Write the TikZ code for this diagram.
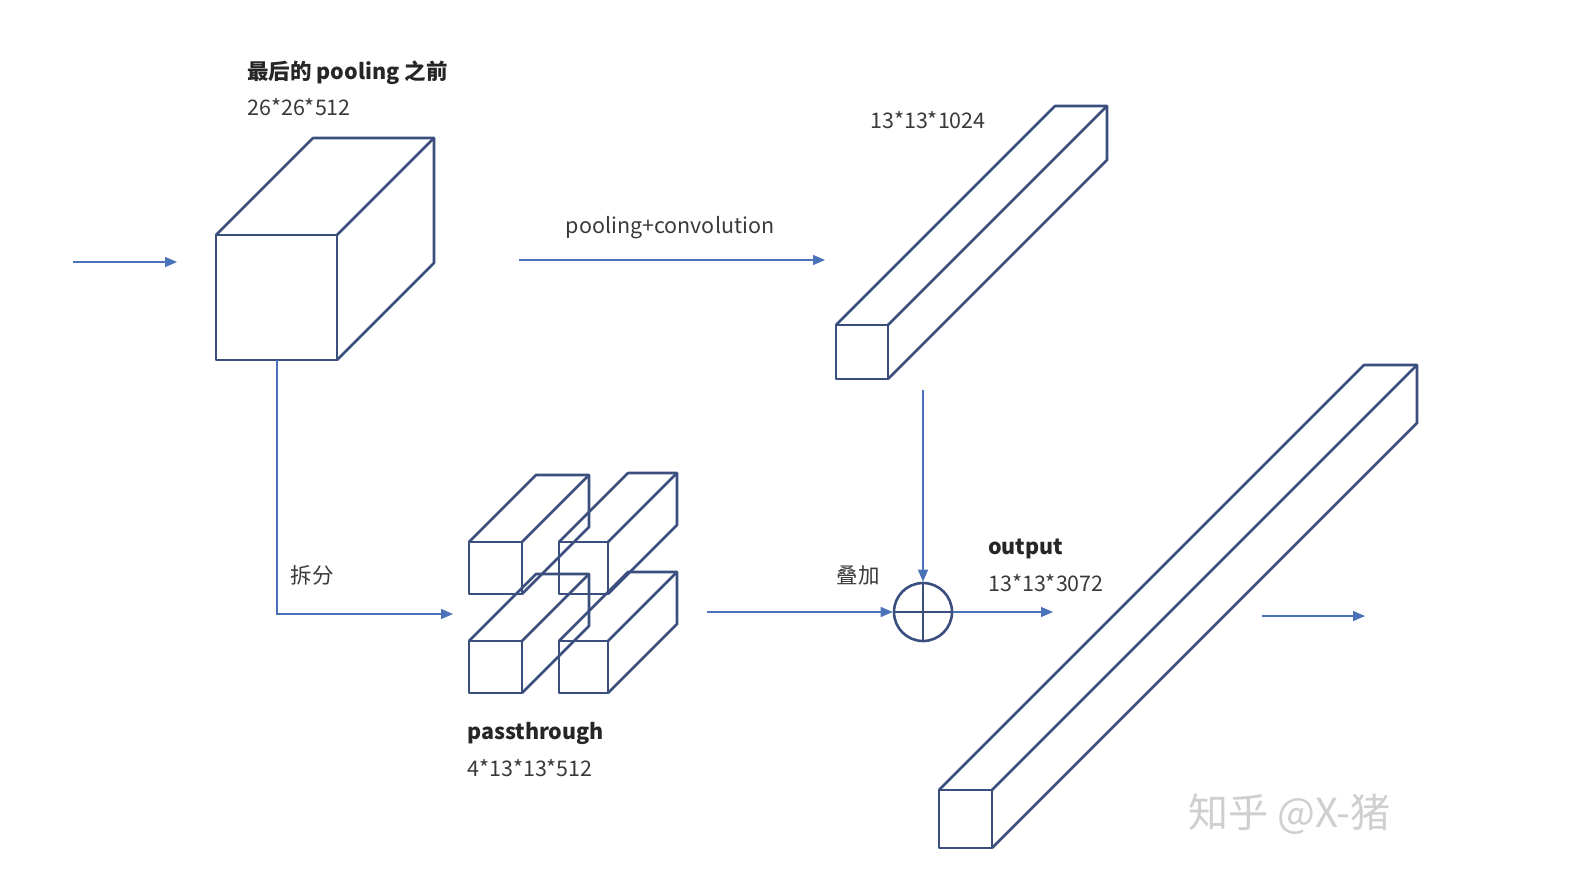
\documentclass[tikz,border=0pt]{standalone}
\usepackage{fontspec}
\setmainfont{Noto Sans CJK SC}
\usetikzlibrary{arrows.meta}
\definecolor{boxc}{HTML}{3B4F7F}
\definecolor{arrc}{HTML}{4A72B8}
\definecolor{txtc}{HTML}{3A3A3A}
\definecolor{wmc}{HTML}{CFCFCF}
\newcommand\drawcuboid[5]{% x y w h d
  \draw[boxline] (#1,#2) rectangle ++(#3,#4);
  \draw[boxline] (#1,#2) -- ++(#5,-#5) -- ++(#3,0) -- ++(0,#4) -- ++(-#5,#5);
  \draw[boxline] (#1+#3,#2) -- ++(#5,-#5);
}
\begin{document}
\begin{tikzpicture}[x=1pt,y=-1pt,
  boxline/.style={draw=boxc,line width=2.6pt,line join=round},
  arr/.style={draw=arrc,line width=1.3pt,-{Triangle[length=12pt,width=10pt]}},
  lbl/.style={text=txtc,font=\fontsize{21.5}{25}\selectfont,inner sep=0pt,anchor=west},
  blbl/.style={lbl,text=black!85,font=\fontsize{21.5}{25}\selectfont\bfseries},
  sumnode/.style={circle,draw=boxc,line width=2.6pt,minimum size=58pt,inner sep=0pt}]
\useasboundingbox[fill=white] (0,0) rectangle (1590,884);

% cuboids
\drawcuboid{216}{235}{121}{125}{97}
\drawcuboid{836}{325}{52}{54}{219}
\drawcuboid{469}{542}{53}{52}{67}
\drawcuboid{559}{542}{49}{52}{69}
\drawcuboid{469}{641}{53}{52}{67}
\drawcuboid{559}{641}{49}{52}{69}
\drawcuboid{939}{790}{53}{58}{425}

% sum node
\node[sumnode] (sum) at (923,612) {};
\draw[boxline] (sum.north) -- (sum.south);
\draw[boxline] (sum.west) -- (sum.east);

% connectors
\coordinate (inS) at (73,262);
\coordinate (inE) at (177,262);
\coordinate (pcS) at (519,260);
\coordinate (pcE) at (825,260);
\coordinate (cubeB) at (277,360);
\coordinate (splitE) at (453,614);
\coordinate (barB) at (923,390);
\coordinate (ptE) at (707,612);
\coordinate (outE) at (1053,612);
\coordinate (finS) at (1262,616);
\coordinate (finE) at (1365,616);
\draw[arr] (inS) -- (inE);
\draw[arr] (pcS) -- (pcE);
\draw[arr] (cubeB) |- (splitE);
\draw[arr] (barB) -- (sum.north);
\draw[arr] (ptE) -- (sum.west);
\draw[arr] (sum.east) -- (outE);
\draw[arr] (finS) -- (finE);

% labels
\node[blbl] (t1) at (247,73) {最后的 pooling 之前};
\node[lbl] (t2) at (247,107) {26*26*512};
\node[lbl] (t3) at (870,120) {13*13*1024};
\node[lbl,anchor=center] (t4) at (670,228) {pooling+convolution};
\node[lbl,anchor=center] (t5) at (312,575) {拆分};
\node[lbl,anchor=center] (t6) at (858,575) {叠加};
\node[blbl] (t7) at (988,549) {output};
\node[lbl] (t8) at (988,583) {13*13*3072};
\node[blbl] (t9) at (467,733) {passthrough};
\node[lbl] (t10) at (467,768) {4*13*13*512};
\node[text=wmc,font=\fontsize{40}{44}\selectfont,inner sep=0pt,anchor=west] (wm) at (1188,814) {知乎 @X-猪};
\end{tikzpicture}
\end{document}
